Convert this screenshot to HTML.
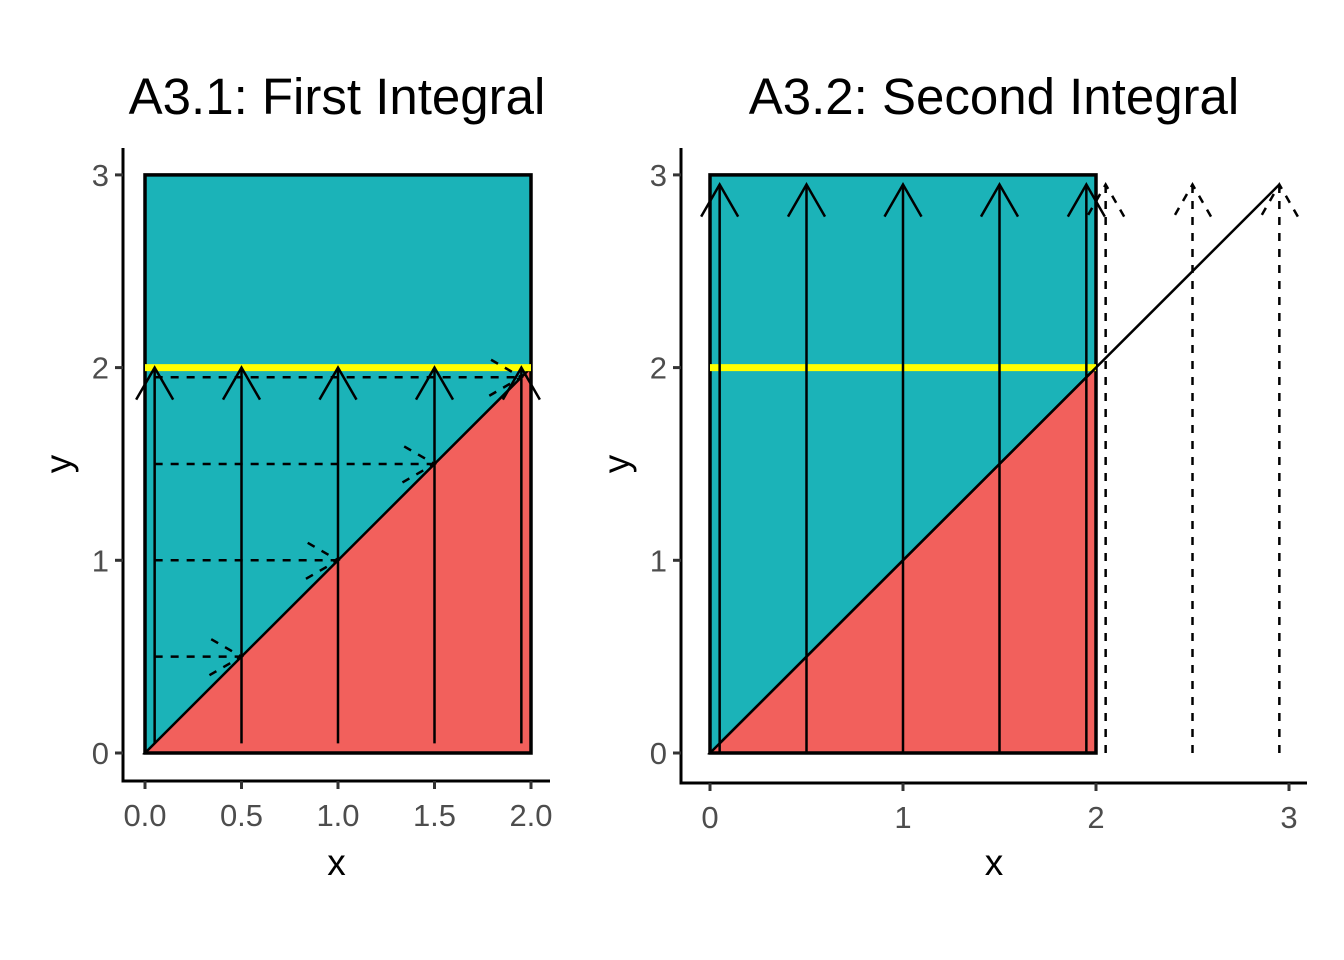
<!DOCTYPE html>
<html><head><meta charset="utf-8"><style>
body{margin:0;background:#fff}
svg{display:block;font-family:"Liberation Sans",sans-serif}
</style></head><body>
<svg id="s" width="1344" height="960" viewBox="0 0 1344 960">
<rect width="1344" height="960" fill="#fff"/>
</svg>
<script>
const leftXTicks=[0,0.5,1,1.5,2];
const leftXLabels=["0.0","0.5","1.0","1.5","2.0"];
const rightXTicks=[0,1,2,3];
const rightXLabels=["0","1","2","3"];
const yTicks=[0,1,2,3];
const leftVertX=[0.05,0.5,1,1.5,1.95];
const leftHorizY=[0.5,1,1.5,1.95];
const rightSolidX=[0.05,0.5,1,1.5,1.95];
const rightDashX=[2.05,2.5,2.95];
const rectX=[0,2], rectY=[0,3], yellowY=2, arrowTop=2.95;

const NS="http://www.w3.org/2000/svg";
const svg=document.getElementById('s');
function el(t,a,p){const e=document.createElementNS(NS,t);for(const k in a)e.setAttribute(k,a[k]);(p||svg).appendChild(e);return e;}
function arrowHead(g,x1,y1,x2,y2,dash){
  const ang=Math.atan2(y2-y1,x2-x1),L=37,a=Math.PI/6;
  const p1=[x2-L*Math.cos(ang-a),y2-L*Math.sin(ang-a)],p2=[x2-L*Math.cos(ang+a),y2-L*Math.sin(ang+a)];
  const h=el('polyline',{points:`${p1} ${x2},${y2} ${p2}`,fill:'none',stroke:'#000','stroke-width':2.5,'stroke-dasharray':dash?'8,8':'none'},g);
  
  
}
function panel(cfg){
  const X=v=>cfg.x0+v*193,Y=v=>753-v*192.7;
  const g=el('g',{});
  
  
  const r=el('rect',{x:X(rectX[0]),y:Y(rectY[1]),width:X(rectX[1])-X(rectX[0]),height:Y(rectY[0])-Y(rectY[1]),fill:'#1bb3b8'},g);
  
  const t=el('polygon',{points:`${X(0)},${Y(0)} ${X(2)},${Y(0)} ${X(2)},${Y(2)}`,fill:'#f2605c',stroke:'#000','stroke-width':2.5},g);
  
  const b=el('rect',{x:X(rectX[0]),y:Y(rectY[1]),width:X(rectX[1])-X(rectX[0]),height:Y(rectY[0])-Y(rectY[1]),fill:'none',stroke:'#000','stroke-width':3.5},g);
  
  const yl=el('line',{x1:X(0),x2:X(2),y1:Y(yellowY),y2:Y(yellowY),stroke:'#ffff00','stroke-width':7},g);
  
  cfg.draw(g,X,Y);
  const ax=el('path',{d:`M${cfg.axX},148 V${cfg.axY} H${cfg.axEnd}`,fill:'none',stroke:'#000','stroke-width':3},g);
  
  yTicks.forEach(v=>{
    el('line',{x1:cfg.axX-8,x2:cfg.axX,y1:Y(v),y2:Y(v),stroke:'#333','stroke-width':3},g);
    const tx=el('text',{x:cfg.axX-14,y:Y(v)+11,'text-anchor':'end','font-size':31,fill:'#4d4d4d'},g);
    tx.textContent=v;
    
  });
  cfg.xt.forEach((v,i)=>{
    el('line',{x1:X(v),x2:X(v),y1:cfg.axY,y2:cfg.axY+8,stroke:'#333','stroke-width':3},g);
    const tx=el('text',{x:X(v),y:cfg.axY+45,'text-anchor':'middle','font-size':31,fill:'#4d4d4d'},g);
    tx.textContent=cfg.xl[i];
    
  });
  const xt=el('text',{x:(cfg.axX+cfg.axEnd)/2,y:875,'text-anchor':'middle','font-size':37},g);
  xt.textContent='x';
  const yt=el('text',{x:0,y:0,'text-anchor':'middle','font-size':37,transform:`translate(${cfg.axX-52},${Y(1.5)}) rotate(-90)`},g);
  yt.textContent='y';
  const ti=el('text',{x:cfg.titleX,y:114,'text-anchor':'middle','font-size':51},g);
  ti.textContent=cfg.title;
}
function arrow(g,x1,y1,x2,y2,dash,name){
  const l=el('line',{x1,y1,x2,y2,stroke:'#000','stroke-width':2.5,'stroke-dasharray':dash?'8,8':'none'},g);
  
  arrowHead(g,x1,y1,x2,y2,dash);
}
panel({name:'panel-first-integral',x0:145,axX:123,axY:781,axEnd:550,xt:leftXTicks,xl:leftXLabels,titleX:337,title:'A3.1: First Integral',
 draw:(g,X,Y)=>{
  leftVertX.forEach(v=>arrow(g,X(v),Y(0.05),X(v),Y(2),false,'vertical-arrow'));
  leftHorizY.forEach(v=>arrow(g,X(0.05),Y(v),X(v),Y(v),true,'horizontal-arrow'));
 }});
panel({name:'panel-second-integral',x0:710,axX:681,axY:783,axEnd:1307,xt:rightXTicks,xl:rightXLabels,titleX:994,title:'A3.2: Second Integral',
 draw:(g,X,Y)=>{
  rightSolidX.forEach(v=>arrow(g,X(v),Y(0),X(v),Y(arrowTop),false,'vertical-arrow'));
  rightDashX.forEach(v=>arrow(g,X(v),Y(0),X(v),Y(arrowTop),true,'dashed-arrow'));
  const d=el('line',{x1:X(0.05),y1:Y(0.05),x2:X(arrowTop),y2:Y(arrowTop),stroke:'#000','stroke-width':2.5},g);
  
 }});
</script>
</body></html>
